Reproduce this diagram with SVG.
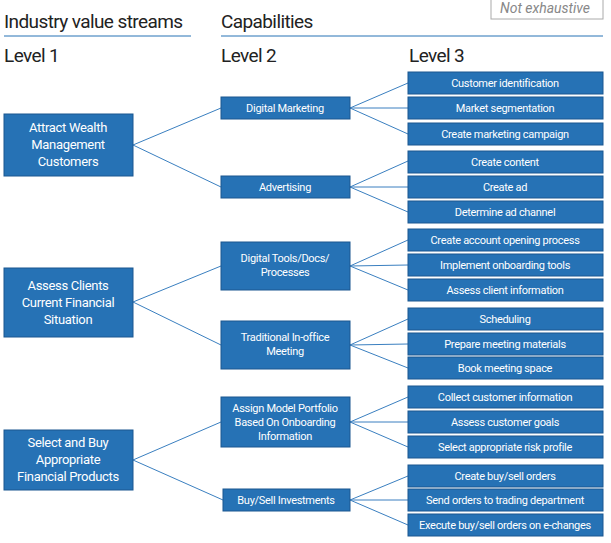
<svg xmlns="http://www.w3.org/2000/svg" width="611" height="543" viewBox="0 0 611 543">
<style>
.b{fill:#2672b5;stroke:#1a5790;stroke-width:1}
.t{fill:#fff;font-family:Roboto,"Liberation Sans",sans-serif;font-size:11px;text-anchor:middle;letter-spacing:-0.3px}
.t1{font-size:13px}
.h{fill:#222;font-family:Roboto,"Liberation Sans",sans-serif;font-size:19px;letter-spacing:-0.6px}
.c{stroke:#3a7fc0;stroke-width:1;fill:none}
</style>
<rect width="611" height="543" fill="#fff"/>
<g id="header">
<rect x="491" y="-3" width="112" height="22" fill="#fff" stroke="#aaa"/>
<text x="545" y="13" font-family="Roboto,'Liberation Sans',sans-serif" font-size="14" font-style="italic" fill="#888" text-anchor="middle">Not exhaustive</text>
<text class="h" x="4" y="28">Industry value streams</text>
<text class="h" x="221" y="28">Capabilities</text>
<line x1="4" y1="36" x2="191" y2="36" stroke="#2672b5"/>
<line x1="221" y1="36" x2="603" y2="36" stroke="#2672b5"/>
<text class="h" x="4" y="62">Level 1</text>
<text class="h" x="221" y="62">Level 2</text>
<text class="h" x="409" y="62">Level 3</text>
</g>
<g id="connectors" class="c">
<path d="M133 145L221 108M133 145L221 187M133 302L221 266M133 302L221 345M133 460L221 422M133 460L223 500"/>
<path d="M350 108L408 83M350 108L408 108M350 108L408 134"/>
<path d="M350 187L408 161M350 187L408 187M350 187L408 212"/>
<path d="M350 266L408 240M350 266L408 265M350 266L408 290"/>
<path d="M350 345L408 319M350 345L408 344M350 345L408 368"/>
<path d="M350 422L408 397M350 422L408 422M350 422L408 447"/>
<path d="M350 500L408 476M350 500L408 500M350 500L408 525"/>
</g>
<g id="l1a"><rect class="b" x="4" y="114" width="129" height="62"/><text class="t t1"><tspan x="68" y="132">Attract Wealth</tspan><tspan x="68" y="149">Management</tspan><tspan x="68" y="166">Customers</tspan></text></g>
<g id="l1b"><rect class="b" x="4" y="268" width="129" height="69"/><text class="t t1"><tspan x="68" y="290">Assess Clients</tspan><tspan x="68" y="307">Current Financial</tspan><tspan x="68" y="324">Situation</tspan></text></g>
<g id="l1c"><rect class="b" x="4" y="430" width="129" height="60"/><text class="t t1"><tspan x="68" y="447">Select and Buy</tspan><tspan x="68" y="464">Appropriate</tspan><tspan x="68" y="481">Financial Products</tspan></text></g>
<g id="l2a"><rect class="b" x="221" y="97" width="129" height="22"/><text class="t" x="285" y="112">Digital Marketing</text></g>
<g id="l2b"><rect class="b" x="221" y="176" width="129" height="22"/><text class="t" x="285" y="191">Advertising</text></g>
<g id="l2c"><rect class="b" x="221" y="242" width="129" height="48"/><text class="t"><tspan x="285" y="262">Digital Tools/Docs/</tspan><tspan x="285" y="276">Processes</tspan></text></g>
<g id="l2d"><rect class="b" x="221" y="321" width="129" height="48"/><text class="t"><tspan x="285" y="341">Traditional In-office</tspan><tspan x="285" y="355">Meeting</tspan></text></g>
<g id="l2e"><rect class="b" x="221" y="397" width="129" height="50"/><text class="t"><tspan x="285" y="412">Assign Model Portfolio</tspan><tspan x="285" y="426">Based On Onboarding</tspan><tspan x="285" y="440">Information</tspan></text></g>
<g id="l2f"><rect class="b" x="223" y="489" width="127" height="22"/><text class="t" x="286" y="504">Buy/Sell Investments</text></g>
<g id="l3">
<rect class="b" x="408" y="72" width="195" height="22"/><text class="t" x="505" y="87">Customer identification</text>
<rect class="b" x="408" y="97" width="195" height="22"/><text class="t" x="505" y="112">Market segmentation</text>
<rect class="b" x="408" y="123" width="195" height="22"/><text class="t" x="505" y="138">Create marketing campaign</text>
<rect class="b" x="408" y="151" width="195" height="22"/><text class="t" x="505" y="166">Create content</text>
<rect class="b" x="408" y="176" width="195" height="22"/><text class="t" x="505" y="191">Create ad</text>
<rect class="b" x="408" y="201" width="195" height="22"/><text class="t" x="505" y="216">Determine ad channel</text>
<rect class="b" x="408" y="229" width="195" height="22"/><text class="t" x="505" y="244">Create account opening process</text>
<rect class="b" x="408" y="254" width="195" height="22"/><text class="t" x="505" y="269">Implement onboarding tools</text>
<rect class="b" x="408" y="279" width="195" height="22"/><text class="t" x="505" y="294">Assess client information</text>
<rect class="b" x="408" y="308" width="195" height="22"/><text class="t" x="505" y="323">Scheduling</text>
<rect class="b" x="408" y="333" width="195" height="22"/><text class="t" x="505" y="348">Prepare meeting materials</text>
<rect class="b" x="408" y="357" width="195" height="22"/><text class="t" x="505" y="372">Book meeting space</text>
<rect class="b" x="408" y="386" width="195" height="22"/><text class="t" x="505" y="401">Collect customer information</text>
<rect class="b" x="408" y="411" width="195" height="22"/><text class="t" x="505" y="426">Assess customer goals</text>
<rect class="b" x="408" y="436" width="195" height="22"/><text class="t" x="505" y="451">Select appropriate risk profile</text>
<rect class="b" x="408" y="465" width="195" height="22"/><text class="t" x="505" y="480">Create buy/sell orders</text>
<rect class="b" x="408" y="489" width="195" height="22"/><text class="t" x="505" y="504">Send orders to trading department</text>
<rect class="b" x="408" y="514" width="195" height="22"/><text class="t" x="505" y="529">Execute buy/sell orders on e-changes</text>
</g>
</svg>
